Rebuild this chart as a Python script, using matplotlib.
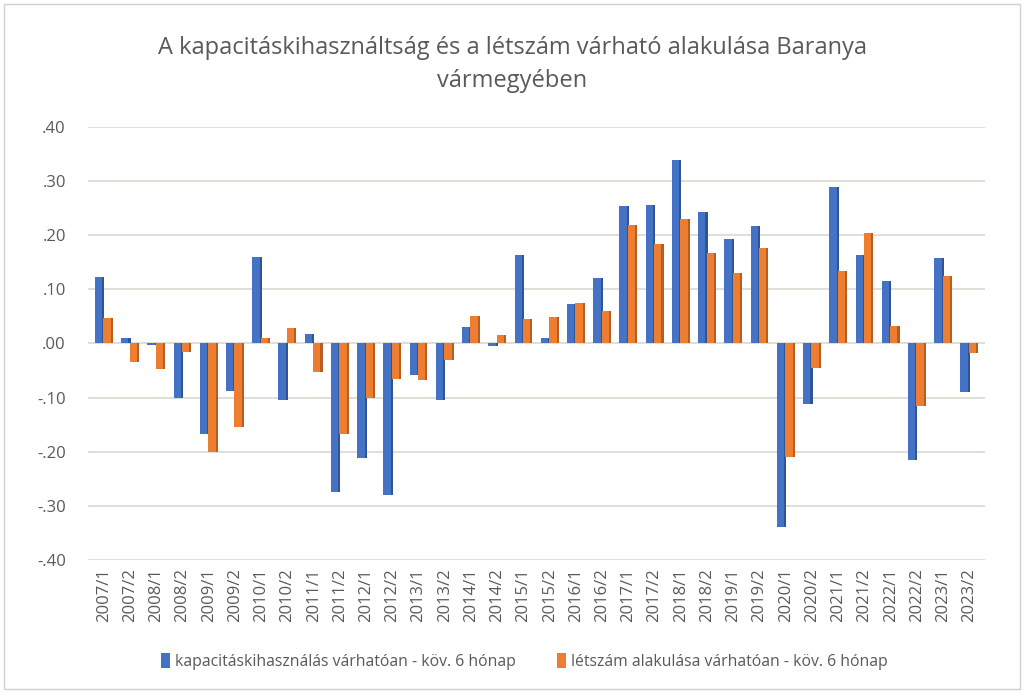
import numpy as np
import matplotlib
matplotlib.use("Agg")
import matplotlib.pyplot as plt

periods = [f"{y}/{h}" for y in range(2007, 2024) for h in (1, 2)]

kapacitas = [0.122, 0.010, -0.003, -0.100, -0.168, -0.088, 0.160, -0.105,
             0.017, -0.275, -0.212, -0.280, -0.058, -0.105, 0.030, -0.005,
             0.163, 0.010, 0.073, 0.120, 0.253, 0.255, 0.338, 0.243,
             0.193, 0.216, -0.340, -0.112, 0.288, 0.163, 0.116, -0.215,
             0.158, -0.090]
letszam = [0.046, -0.035, -0.048, -0.015, -0.200, -0.155, 0.010, 0.028,
           -0.052, -0.168, -0.100, -0.065, -0.068, -0.030, 0.050, 0.015,
           0.045, 0.048, 0.075, 0.060, 0.218, 0.183, 0.230, 0.167,
           0.130, 0.177, -0.210, -0.045, 0.133, 0.203, 0.032, -0.115,
           0.125, -0.018]

series_names = ["kapacitáskihasználás várhatóan - köv. 6 hónap",
                "létszám alakulása várhatóan - köv. 6 hónap"]

plt.rcParams["font.family"] = ["Open Sans", "DejaVu Sans"]
text_color = "#595959"
blue, blue_dark = "#4472c4", "#2f5597"
orange, orange_dark = "#ed7d31", "#b85c1f"

fig = plt.figure(figsize=(10.24, 6.93), dpi=100)
ax = fig.add_axes([0.086, 0.192, 0.876, 0.625])

x = np.arange(len(periods))
w = 0.36
# main faces
ax.bar(x - 0.16, kapacitas, width=w, color=blue, zorder=3, label=series_names[0])
ax.bar(x + 0.16, letszam, width=w, color=orange, zorder=4, label=series_names[1])
# darker side faces for a slight depth look
ax.bar(x - 0.16 + w / 2 - 0.04, kapacitas, width=0.08, color=blue_dark, zorder=3)
ax.bar(x + 0.16 + w / 2 - 0.04, letszam, width=0.08, color=orange_dark, zorder=4)

ax.set_ylim(-0.4, 0.4)
ax.set_xlim(-0.6, len(periods) - 0.4)
yticks = np.arange(-0.4, 0.41, 0.1)
ax.set_yticks(yticks)
ax.set_yticklabels([("-" if v < -1e-9 else "") + f"{abs(v):.2f}".lstrip("0") for v in yticks])
ax.set_xticks(x)
ax.set_xticklabels(periods, rotation=90)
ax.tick_params(axis="both", length=0, colors=text_color, labelsize=12)
ax.tick_params(axis="y", pad=16)
ax.tick_params(axis="x", pad=6)
ax.grid(axis="y", color="#d9d9cf", linewidth=1.2, zorder=0)
for s in ax.spines.values():
    s.set_visible(False)

fig.suptitle("A kapacitáskihasználtság és a létszám várható alakulása Baranya\nvármegyében",
             y=0.948, fontsize=17, color=text_color, linespacing=1.5)

handles, labels = ax.get_legend_handles_labels()
fig.legend(handles, labels, loc="center", bbox_to_anchor=(0.512, 0.046), ncol=2,
           frameon=False, fontsize=11.3, labelcolor=text_color, handlelength=0.6,
           handleheight=1.1, columnspacing=2.6, handletextpad=0.3)

border = plt.Rectangle((0.004, 0.006), 0.992, 0.988, transform=fig.transFigure,
                       fill=False, edgecolor="#d0d0d0", linewidth=1)
fig.patches.append(border)

fig.savefig("out.png", dpi=100)
